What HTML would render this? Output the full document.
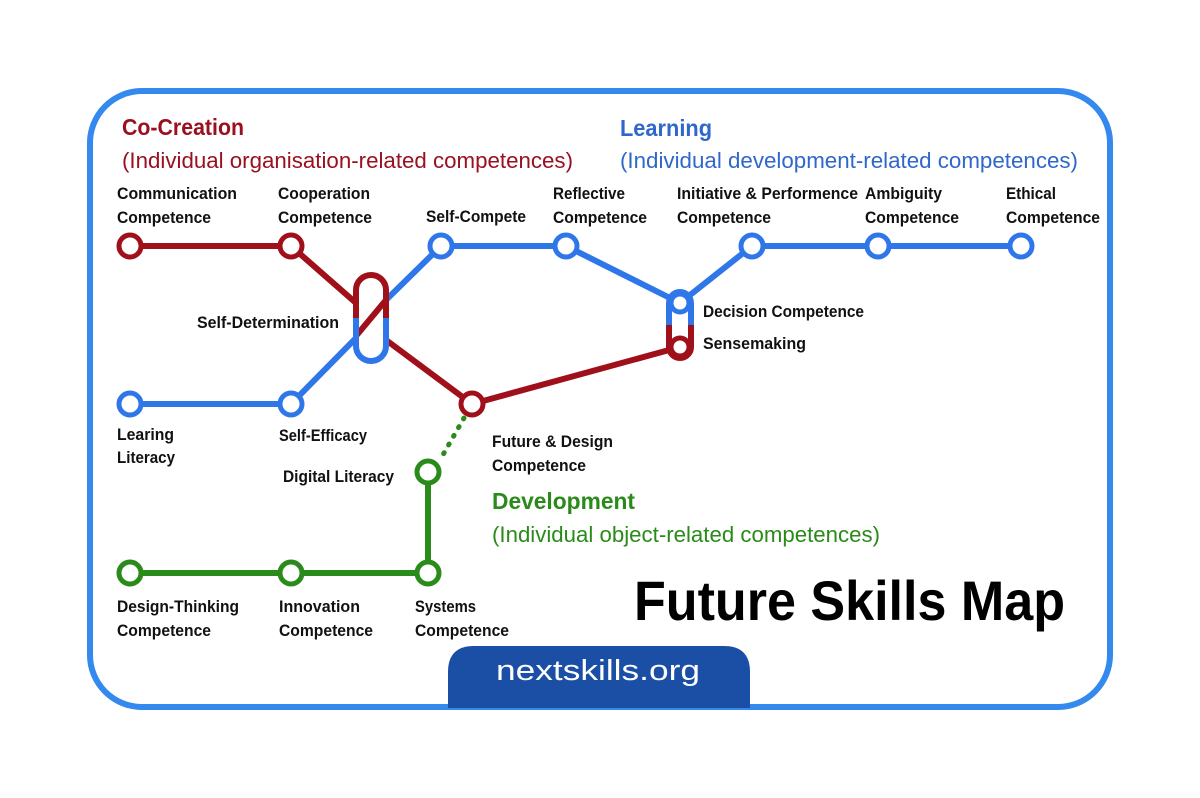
<!DOCTYPE html>
<html><head><meta charset="utf-8"><style>
html,body{margin:0;padding:0;background:#fff;}
svg{display:block;}
text{font-family:"Liberation Sans",sans-serif;}
.l{font-size:17px;font-weight:bold;fill:#111;}
</style></head><body>
<svg width="1200" height="798" viewBox="0 0 1200 798" xmlns="http://www.w3.org/2000/svg">
<rect x="90" y="91" width="1020" height="616" rx="52" fill="#fff" stroke="#3389ee" stroke-width="6"/>
<path d="M448,708 V672 Q448,646 474,646 H724 Q750,646 750,672 V708 Z" fill="#1b4fa6"/>
<text x="598" y="680" text-anchor="middle" font-size="29" fill="#fff" textLength="204" lengthAdjust="spacingAndGlyphs">nextskills.org</text>

<g fill="none" stroke-width="6">
<line x1="464" y1="418" x2="440" y2="460" stroke="#2a8a1a" stroke-dasharray="1,9" stroke-linecap="round" stroke-width="5"/>
<polyline points="130,573 428,573 428,472" stroke="#2a8a1a"/>
<polyline points="130,404 291,404 356,338" stroke="#2f77e8"/>
<polyline points="386,300 441,246 566,246 680,303 752,246 1021,246" stroke="#2f77e8"/>
<polyline points="130,246 291,246 356,303" stroke="#a0101a"/>
<line x1="356" y1="336" x2="386" y2="300" stroke="#a0101a"/>
<polyline points="386,340 472,404 680,347" stroke="#a0101a"/>
<path d="M356,318 V290 A15,15 0 0 1 386,290 V318" stroke="#a0101a"/>
<path d="M356,318 V346 A15,15 0 0 0 386,346 V318" stroke="#2f77e8"/>
<path d="M669,325 V303 A11,11 0 0 1 691,303 V325" stroke="#2f77e8"/>
<path d="M669,325 V347 A11,11 0 0 0 691,347 V325" stroke="#a0101a"/>
</g>
<g fill="#fff" stroke-width="5">
<circle cx="130" cy="246" r="11" stroke="#a0101a"/>
<circle cx="291" cy="246" r="11" stroke="#a0101a"/>
<circle cx="472" cy="404" r="11" stroke="#a0101a"/>
<circle cx="680" cy="347" r="9" stroke="#a0101a"/>
<circle cx="680" cy="303" r="9" stroke="#2f77e8"/>
<circle cx="130" cy="404" r="11" stroke="#2f77e8"/>
<circle cx="291" cy="404" r="11" stroke="#2f77e8"/>
<circle cx="441" cy="246" r="11" stroke="#2f77e8"/>
<circle cx="566" cy="246" r="11" stroke="#2f77e8"/>
<circle cx="752" cy="246" r="11" stroke="#2f77e8"/>
<circle cx="878" cy="246" r="11" stroke="#2f77e8"/>
<circle cx="1021" cy="246" r="11" stroke="#2f77e8"/>
<circle cx="428" cy="472" r="11" stroke="#2a8a1a"/>
<circle cx="130" cy="573" r="11" stroke="#2a8a1a"/>
<circle cx="291" cy="573" r="11" stroke="#2a8a1a"/>
<circle cx="428" cy="573" r="11" stroke="#2a8a1a"/>
</g>

<text x="122" y="135" font-size="23" font-weight="bold" fill="#9b1020" textLength="122" lengthAdjust="spacingAndGlyphs">Co-Creation</text>
<text x="122" y="168" font-size="22" fill="#9b1020" textLength="451" lengthAdjust="spacingAndGlyphs">(Individual organisation-related competences)</text>
<text x="620" y="136" font-size="23" font-weight="bold" fill="#2f67cc" textLength="92" lengthAdjust="spacingAndGlyphs">Learning</text>
<text x="620" y="168" font-size="22" fill="#2f67cc" textLength="458" lengthAdjust="spacingAndGlyphs">(Individual development-related competences)</text>
<text x="492" y="509" font-size="23" font-weight="bold" fill="#2a8a1a" textLength="143" lengthAdjust="spacingAndGlyphs">Development</text>
<text x="492" y="542" font-size="22" fill="#2a8a1a" textLength="388" lengthAdjust="spacingAndGlyphs">(Individual object-related competences)</text>
<text x="634" y="620" font-size="56" font-weight="bold" fill="#000" textLength="431" lengthAdjust="spacingAndGlyphs">Future Skills Map</text>

<g class="l">
<text x="117" y="199" textLength="120" lengthAdjust="spacingAndGlyphs">Communication</text>
<text x="117" y="223" textLength="94" lengthAdjust="spacingAndGlyphs">Competence</text>
<text x="278" y="199" textLength="92" lengthAdjust="spacingAndGlyphs">Cooperation</text>
<text x="278" y="223" textLength="94" lengthAdjust="spacingAndGlyphs">Competence</text>
<text x="426" y="222" textLength="100" lengthAdjust="spacingAndGlyphs">Self-Compete</text>
<text x="553" y="199" textLength="72" lengthAdjust="spacingAndGlyphs">Reflective</text>
<text x="553" y="223" textLength="94" lengthAdjust="spacingAndGlyphs">Competence</text>
<text x="677" y="199" textLength="181" lengthAdjust="spacingAndGlyphs">Initiative &amp; Performence</text>
<text x="677" y="223" textLength="94" lengthAdjust="spacingAndGlyphs">Competence</text>
<text x="865" y="199" textLength="77" lengthAdjust="spacingAndGlyphs">Ambiguity</text>
<text x="865" y="223" textLength="94" lengthAdjust="spacingAndGlyphs">Competence</text>
<text x="1006" y="199" textLength="50" lengthAdjust="spacingAndGlyphs">Ethical</text>
<text x="1006" y="223" textLength="94" lengthAdjust="spacingAndGlyphs">Competence</text>
<text x="197" y="328" textLength="142" lengthAdjust="spacingAndGlyphs">Self-Determination</text>
<text x="703" y="317" textLength="161" lengthAdjust="spacingAndGlyphs">Decision Competence</text>
<text x="703" y="349" textLength="103" lengthAdjust="spacingAndGlyphs">Sensemaking</text>
<text x="117" y="440" textLength="57" lengthAdjust="spacingAndGlyphs">Learing</text>
<text x="117" y="463" textLength="58" lengthAdjust="spacingAndGlyphs">Literacy</text>
<text x="279" y="441" textLength="88" lengthAdjust="spacingAndGlyphs">Self-Efficacy</text>
<text x="492" y="447" textLength="121" lengthAdjust="spacingAndGlyphs">Future &amp; Design</text>
<text x="492" y="471" textLength="94" lengthAdjust="spacingAndGlyphs">Competence</text>
<text x="283" y="482" textLength="111" lengthAdjust="spacingAndGlyphs">Digital Literacy</text>
<text x="117" y="612" textLength="122" lengthAdjust="spacingAndGlyphs">Design-Thinking</text>
<text x="117" y="636" textLength="94" lengthAdjust="spacingAndGlyphs">Competence</text>
<text x="279" y="612" textLength="81" lengthAdjust="spacingAndGlyphs">Innovation</text>
<text x="279" y="636" textLength="94" lengthAdjust="spacingAndGlyphs">Competence</text>
<text x="415" y="612" textLength="61" lengthAdjust="spacingAndGlyphs">Systems</text>
<text x="415" y="636" textLength="94" lengthAdjust="spacingAndGlyphs">Competence</text>
</g>
</svg>
</body></html>
